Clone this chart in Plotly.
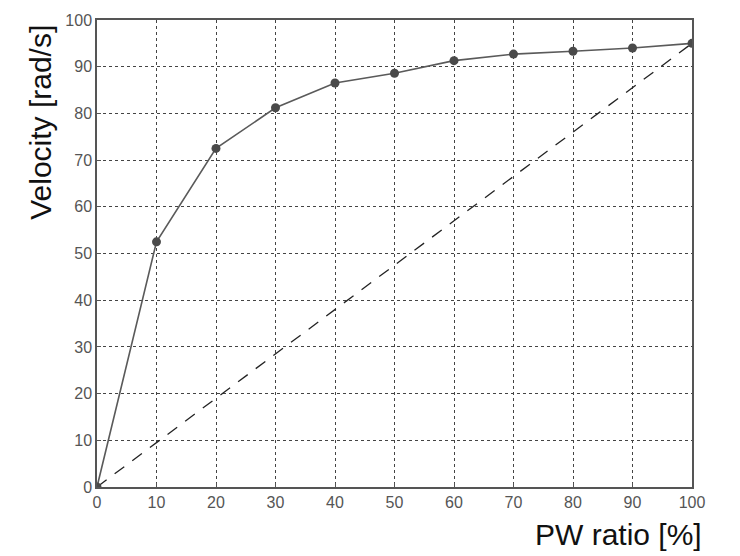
import plotly.graph_objects as go

pw_ratio = [0, 10, 20, 30, 40, 50, 60, 70, 80, 90, 100]
velocity = [0, 52.5, 72.5, 81.2, 86.5, 88.6, 91.3, 92.7, 93.3, 94.0, 95.0]
linear_x = [0, 100]
linear_y = [0, 95]
tick_vals = [0, 10, 20, 30, 40, 50, 60, 70, 80, 90, 100]

fig = go.Figure()
fig.add_trace(go.Scatter(x=linear_x, y=linear_y, mode="lines",
                         line=dict(color="#222222", width=1.3, dash="12px,10px"),
                         showlegend=False))
fig.add_trace(go.Scatter(x=pw_ratio, y=velocity, mode="lines+markers",
                         line=dict(color="#5a5a5a", width=1.6),
                         marker=dict(color="#4a4a4a", size=9),
                         showlegend=False))

axis_common = dict(range=[0, 100], tickvals=tick_vals, showgrid=True,
                   gridcolor="#444444", griddash="dot", gridwidth=1.2,
                   showline=True, linecolor="#555555", linewidth=1.5, mirror=True,
                   zeroline=False, ticks="inside", ticklen=4, tickcolor="#555555",
                   tickfont=dict(family="Liberation Sans, Arial", size=16, color="#555555"))

fig.update_xaxes(**axis_common)
fig.update_yaxes(**axis_common)

fig.update_layout(
    width=740, height=556,
    margin=dict(l=97, r=48, t=15, b=69),
    plot_bgcolor="white", paper_bgcolor="white",
    annotations=[
        dict(text="PW ratio [%]", xref="paper", yref="paper", x=1.02, y=-0.102,
             xanchor="right", yanchor="middle", showarrow=False,
             font=dict(family="Liberation Sans, Arial", size=30, color="#111111")),
        dict(text="Velocity [rad/s]", xref="paper", yref="paper", x=-0.094, y=0.78,
             xanchor="center", yanchor="middle", textangle=-90, showarrow=False,
             font=dict(family="Liberation Sans, Arial", size=30, color="#111111")),
    ],
)

fig.write_html("out.html")
